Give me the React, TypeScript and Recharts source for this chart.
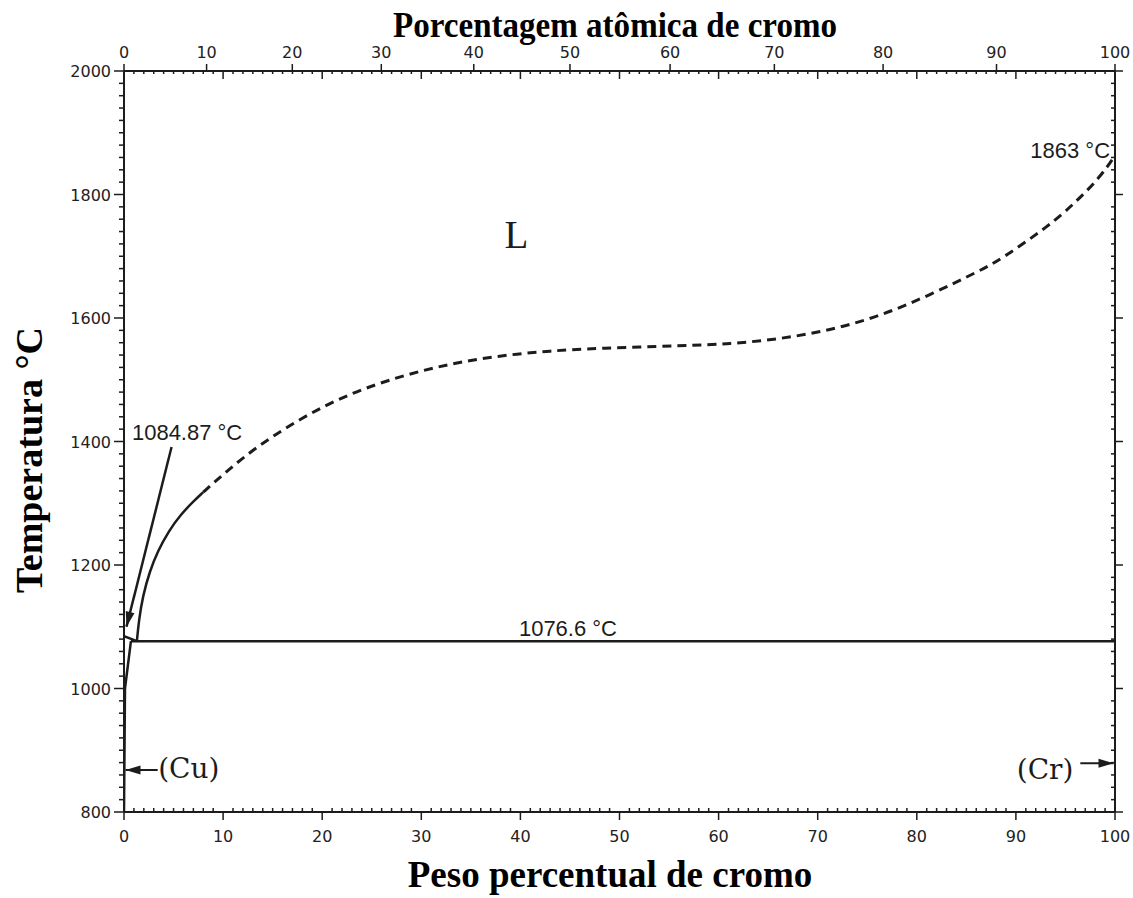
import { LineChart, Line, XAxis, YAxis, ReferenceDot } from 'recharts';

const INK = '#1c1c1c';

// liquidus from the Cu melting point down to the eutectic (wt% Cr, °C)
const liquidusDipWt = [0, 1.3];
const liquidusDipTemp = [1084.87, 1076.6];

// liquidus, solid part near the Cu side
const liquidusSolidWt = [1.3, 1.5, 1.9, 2.6, 3.4, 4.5, 5.8, 7.0, 8.0];
const liquidusSolidTemp = [1076.6, 1110, 1150, 1190, 1222, 1255, 1283, 1303, 1318];

// liquidus, dashed (estimated) part
const liquidusDashedWt = [8.0, 9.4, 12.7, 17.8, 22.8, 27.9, 32.9, 37.9, 43.0, 48.0, 56.1, 61.2, 66.2, 71.2, 76.3, 81.3, 86.4, 88.4, 93.4, 96.0, 98.5, 100];
const liquidusDashedTemp = [1318, 1338, 1384, 1438, 1478, 1506, 1526, 1539, 1547, 1551, 1555, 1558, 1566, 1580, 1603, 1637, 1677, 1694, 1750, 1787, 1828, 1863];

// eutectic isotherm and (Cu) solidus
const eutecticWt = [0.7, 100];
const eutecticTemp = [1076.6, 1076.6];
const solidusCuWt = [0, 0.1, 0.7];
const solidusCuTemp = [800, 1000, 1076.6];

// leader arrows
const meltArrowWt = [4.8, 0.25];
const meltArrowTemp = [1391, 1100];
const cuArrowWt = [3.4, 0.15];
const cuArrowTemp = [868, 868];
const crArrowWt = [96.5, 99.85];
const crArrowTemp = [879, 879];

// axis tick labels
const weightTickLabels = [0, 10, 20, 30, 40, 50, 60, 70, 80, 90, 100];
const atomicTickLabels = [0, 10, 20, 30, 40, 50, 60, 70, 80, 90, 100];
const tempTickLabels = [800, 1000, 1200, 1400, 1600, 1800, 2000];

const toRows = (w: number[], t: number[]) => w.map((v, i) => ({ w: v, t: t[i] }));

// at.% Cr -> wt.% Cr (Cr 52.00, Cu 63.55)
const atToWt = (a: number) => (100 * a * 52.0) / (a * 52.0 + (100 - a) * 63.55);

const weightMinor = Array.from({ length: 101 }, (_, i) => i).filter((v) => v % 10 !== 0);
const bottomTicks = [...weightTickLabels, ...weightMinor].sort((a, b) => a - b);

const tempMinor = Array.from({ length: 61 }, (_, i) => 800 + i * 20).filter((v) => v % 200 !== 0);
const sideTicks = [...tempTickLabels, ...tempMinor].sort((a, b) => a - b);

type TopTick = { pos: number; kind: 'at' | 'wt' | 'minor'; label?: number };
const topTickList: TopTick[] = [
  ...atomicTickLabels.map((a) => ({ pos: atToWt(a), kind: 'at' as const, label: a })),
  ...weightTickLabels.filter((w) => w !== 0 && w !== 100).map((w) => ({ pos: w, kind: 'wt' as const })),
  ...weightMinor.map((w) => ({ pos: w, kind: 'minor' as const })),
].sort((a, b) => a.pos - b.pos);

const tickFont = { fontFamily: 'DejaVu Sans', fontSize: 16, fill: '#222' };

const BottomTick = (props: any) => {
  const { x, y, payload } = props;
  const major = weightTickLabels.includes(payload.value);
  return (
    <g>
      <line x1={x} x2={x} y1={y} y2={major ? y + 8 : y - 4} stroke={INK} strokeWidth={1.5} />
      {major && (
        <text x={x} y={y + 30} textAnchor="middle" {...tickFont}>
          {payload.value}
        </text>
      )}
    </g>
  );
};

const TopTickMark = (props: any) => {
  const { x, y, payload } = props;
  const t = topTickList.find((d) => Math.abs(d.pos - payload.value) < 1e-6);
  if (!t) return <g />;
  if (t.kind === 'at') {
    return (
      <g>
        <line x1={x} x2={x} y1={y} y2={y - 7} stroke={INK} strokeWidth={1.5} />
        <text x={x} y={y - 13} textAnchor="middle" {...tickFont}>
          {t.label}
        </text>
      </g>
    );
  }
  return <line x1={x} x2={x} y1={y} y2={y + (t.kind === 'wt' ? 8 : 3)} stroke={INK} strokeWidth={1.5} />;
};

const LeftTick = (props: any) => {
  const { x, y, payload } = props;
  const major = tempTickLabels.includes(payload.value);
  return (
    <g>
      <line x1={x} x2={x - (major ? 10 : 5)} y1={y} y2={y} stroke={INK} strokeWidth={1.5} />
      {major && (
        <text x={x - 13} y={y + 6} textAnchor="end" {...tickFont}>
          {payload.value}
        </text>
      )}
    </g>
  );
};

const RightTick = (props: any) => {
  const { x, y, payload } = props;
  const major = tempTickLabels.includes(payload.value);
  return <line x1={x} x2={major ? x + 8 : x - 4} y1={y} y2={y} stroke={INK} strokeWidth={1.5} />;
};

const arrowDot = (fallbackAngle: number) => (props: any) => {
  const { cx, cy, index, points } = props;
  const last = points ? points.length - 1 : 1;
  if (index !== last) return <g key={`d${index}`} />;
  let ang = fallbackAngle;
  if (points && points[index - 1]) {
    const prev = points[index - 1];
    ang = (Math.atan2(cy - prev.y, cx - prev.x) * 180) / Math.PI;
  }
  return (
    <polygon
      key={`d${index}`}
      points="0,0 -15,-4.5 -15,4.5"
      transform={`translate(${cx},${cy}) rotate(${ang})`}
      fill={INK}
    />
  );
};

const note = (text: string, anchor: 'start' | 'middle' | 'end', font: any) => (p: any) => (
  <text x={p.cx} y={p.cy} textAnchor={anchor} fill={INK} {...font}>
    {text}
  </text>
);

const sansNote = { fontFamily: 'Liberation Sans', fontSize: 22 };
const phaseNote = { fontFamily: 'DejaVu Serif', fontSize: 28 };

const App = () => {
  return (
    <div style={{ position: 'absolute', left: 0, top: 0, background: '#fff' }}>
      <LineChart width={1133} height={898} margin={{ top: 0, right: 8, bottom: 0, left: 0 }}>
        <XAxis
          type="number"
          dataKey="w"
          domain={[0, 100]}
          ticks={bottomTicks}
          interval={0}
          height={86}
          tickSize={0}
          tickMargin={0}
          tickLine={false}
          tick={(p: any) => <BottomTick {...p} />}
          axisLine={{ stroke: INK, strokeWidth: 2 }}
          allowDataOverflow
          label={{
            content: () => (
              <text x={610} y={887} textAnchor="middle" fontFamily="Liberation Serif" fontWeight="bold" fontSize={37} fill="#000">
                Peso percentual de cromo
              </text>
            ),
          }}
        />
        <XAxis
          xAxisId="top"
          orientation="top"
          type="number"
          dataKey="w"
          domain={[0, 100]}
          ticks={topTickList.map((t) => t.pos)}
          interval={0}
          height={71}
          tickSize={0}
          tickMargin={0}
          tickLine={false}
          tick={(p: any) => <TopTickMark {...p} />}
          axisLine={{ stroke: INK, strokeWidth: 2 }}
          allowDataOverflow
          label={{
            content: () => (
              <text
                x={615}
                y={37}
                textAnchor="middle"
                fontFamily="Liberation Serif"
                fontWeight="bold"
                fontSize={36}
                textLength={444}
                lengthAdjust="spacingAndGlyphs"
                fill="#000"
              >
                Porcentagem atômica de cromo
              </text>
            ),
          }}
        />
        <YAxis
          type="number"
          domain={[800, 2000]}
          ticks={sideTicks}
          interval={0}
          width={124}
          tickSize={0}
          tickMargin={0}
          tickLine={false}
          tick={(p: any) => <LeftTick {...p} />}
          axisLine={{ stroke: INK, strokeWidth: 2 }}
          allowDataOverflow
          label={{
            content: () => (
              <text
                x={42}
                y={460}
                textAnchor="middle"
                transform="rotate(-90, 42, 460)"
                fontFamily="Liberation Serif"
                fontWeight="bold"
                fontSize={38}
                fill="#000"
              >
                Temperatura °C
              </text>
            ),
          }}
        />
        <YAxis
          yAxisId="right"
          orientation="right"
          type="number"
          domain={[800, 2000]}
          ticks={sideTicks}
          interval={0}
          width={10}
          tickSize={0}
          tickMargin={0}
          tickLine={false}
          tick={(p: any) => <RightTick {...p} />}
          axisLine={{ stroke: INK, strokeWidth: 2 }}
          allowDataOverflow
        />

        <Line data={toRows(solidusCuWt, solidusCuTemp)} dataKey="t" type="linear" stroke={INK} strokeWidth={2.5} dot={false} activeDot={false} isAnimationActive={false} />
        <Line data={toRows(eutecticWt, eutecticTemp)} dataKey="t" type="linear" stroke={INK} strokeWidth={2.5} dot={false} activeDot={false} isAnimationActive={false} />
        <Line data={toRows(liquidusDipWt, liquidusDipTemp)} dataKey="t" type="linear" stroke={INK} strokeWidth={2.5} dot={false} activeDot={false} isAnimationActive={false} />
        <Line data={toRows(liquidusSolidWt, liquidusSolidTemp)} dataKey="t" type="basis" stroke={INK} strokeWidth={2.5} dot={false} activeDot={false} isAnimationActive={false} />
        <Line data={toRows(liquidusDashedWt, liquidusDashedTemp)} dataKey="t" type="basis" stroke={INK} strokeWidth={3} strokeDasharray="9 6" dot={false} activeDot={false} isAnimationActive={false} />
        <Line data={toRows(meltArrowWt, meltArrowTemp)} dataKey="t" type="linear" stroke={INK} strokeWidth={2.5} dot={arrowDot(104)} activeDot={false} isAnimationActive={false} />
        <Line data={toRows(cuArrowWt, cuArrowTemp)} dataKey="t" type="linear" stroke={INK} strokeWidth={2} dot={arrowDot(180)} activeDot={false} isAnimationActive={false} />
        <Line data={toRows(crArrowWt, crArrowTemp)} dataKey="t" type="linear" stroke={INK} strokeWidth={2} dot={arrowDot(0)} activeDot={false} isAnimationActive={false} />

        <ReferenceDot x={39.6} y={1713} r={0} ifOverflow="visible" shape={note('L', 'middle', { fontFamily: 'Liberation Serif', fontSize: 39 })} />
        <ReferenceDot x={99.5} y={1859} r={0} ifOverflow="visible" shape={note('1863 °C', 'end', sansNote)} />
        <ReferenceDot x={0.8} y={1402} r={0} ifOverflow="visible" shape={note('1084.87 °C', 'start', sansNote)} />
        <ReferenceDot x={44.8} y={1085} r={0} ifOverflow="visible" shape={note('1076.6 °C', 'middle', sansNote)} />
        <ReferenceDot x={3.45} y={855} r={0} ifOverflow="visible" shape={note('(Cu)', 'start', phaseNote)} />
        <ReferenceDot x={95.8} y={853} r={0} ifOverflow="visible" shape={note('(Cr)', 'end', phaseNote)} />
      </LineChart>
    </div>
  );
};

export default App;
